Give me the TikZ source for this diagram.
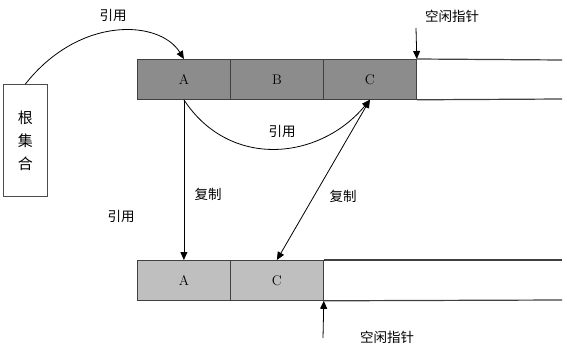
\documentclass[tikz,border=0pt]{standalone}
\usepackage{fontspec}
\newfontfamily\cjk{Noto Sans CJK SC}
\usetikzlibrary{arrows.meta}
\begin{document}
\begin{tikzpicture}[x=1pt,y=-1pt,
  cellbase/.style={draw=black!75, line width=0.8pt, minimum width=93pt, minimum height=40pt, inner sep=0pt, anchor=north west, font=\fontsize{14}{14}\selectfont},
  topcell/.style={cellbase, fill=black!45},
  botcell/.style={cellbase, fill=black!25},
  lbl/.style={font=\cjk\fontsize{13.5}{14}\selectfont, inner sep=0pt},
  arr/.style={-{Triangle[length=8pt,width=7pt]}, line width=0.8pt},
  rail/.style={draw=black!75, line width=1.2pt}
]
\useasboundingbox (0,0) rectangle (567,353);
% root set
\node[draw=black!70, line width=0.8pt, minimum width=44pt, minimum height=112pt, inner sep=0pt, anchor=north west, font=\cjk\fontsize{15}{23}\selectfont, align=center] (root) at (3,84) {根\\集\\合};
% top row
\node[topcell] (ta) at (137,59) {A};
\node[topcell] (tb) at (230,59) {B};
\node[topcell] (tc) at (323,59) {C};
\coordinate (te1) at (562,60);
\coordinate (te2) at (562,99);
\draw[rail] (tc.north east) -- (te1);
\draw[rail] (tc.south east) -- (te2);
% bottom row
\node[botcell] (ba) at (137,260) {A};
\node[botcell] (bc) at (230,260) {C};
\coordinate (be1) at (562,260);
\coordinate (be2) at (562,300);
\draw[rail] (bc.north east) -- (be1);
\draw[rail] (bc.south east) -- (be2);
% labels
\node[lbl] (l1) at (113,15) {引用};
\node[lbl] (fp1) at (452,16) {空闲指针};
\node[lbl] (l2) at (282,131) {引用};
\node[lbl] (c1) at (208,194) {复制};
\node[lbl] (l3) at (121,216) {引用};
\node[lbl] (c2) at (343,196) {复制};
\node[lbl] (fp2) at (387,337) {空闲指针};
% pointers
\coordinate (p1) at (416,28);
\draw[arr] (p1) -- (tc.north east);
\coordinate (p2) at (323,338);
\draw[arr] (p2) -- (bc.south east);
% arrows
\draw[arr] (root.north) .. controls (80,15) and (160,20) .. (ta.north);
\draw[arr] (ta.south) -- (ba.north);
\draw[arr] (ta.south) .. controls (230,170) and (320,160) .. (tc.south);
\draw[{Triangle[length=8pt,width=7pt]}-{Triangle[length=8pt,width=7pt]}, line width=0.8pt] (bc.north) -- (tc.south);
\end{tikzpicture}
\end{document}
